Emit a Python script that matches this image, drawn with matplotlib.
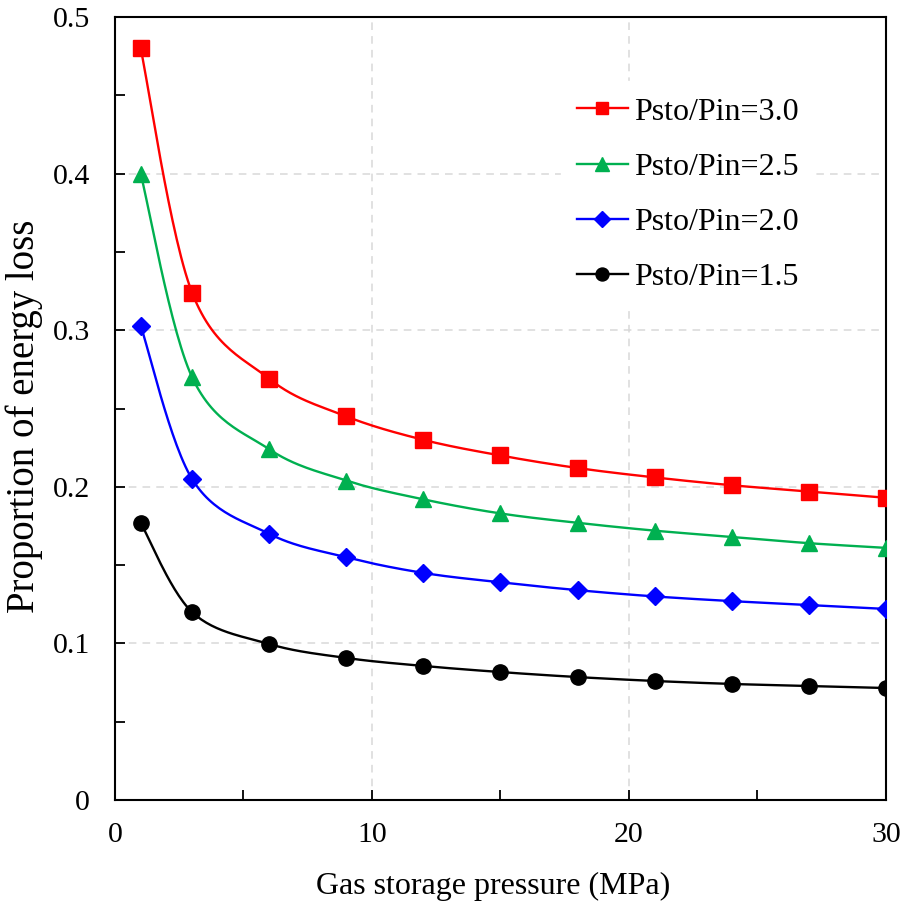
import matplotlib
matplotlib.use("Agg", force=True)
import matplotlib.pyplot as plt
from matplotlib.ticker import MultipleLocator
import numpy as np

# Data
pressure = [1, 3, 6, 9, 12, 15, 18, 21, 24, 27, 30]
ratio_30 = [0.480, 0.324, 0.269, 0.245, 0.230, 0.220, 0.212, 0.206, 0.201, 0.197, 0.193]
ratio_25 = [0.400, 0.270, 0.224, 0.204, 0.192, 0.183, 0.177, 0.172, 0.168, 0.164, 0.161]
ratio_20 = [0.303, 0.205, 0.170, 0.155, 0.145, 0.139, 0.134, 0.130, 0.127, 0.1245, 0.122]
ratio_15 = [0.177, 0.120, 0.0996, 0.0907, 0.0856, 0.0817, 0.0785, 0.0760, 0.0741, 0.0728, 0.0715]
labels = ["Psto/Pin=3.0", "Psto/Pin=2.5", "Psto/Pin=2.0", "Psto/Pin=1.5"]

plt.rcParams['font.family'] = ['Liberation Serif', 'DejaVu Serif']


def smooth_curve(x, y, n=30):
    """Excel-style smoothed line: cubic Bezier segments with Catmull-Rom control points."""
    x = np.asarray(x, float)
    y = np.asarray(y, float)
    px = np.concatenate([[x[0]], x, [x[-1]]])
    py = np.concatenate([[y[0]], y, [y[-1]]])
    xs, ys = [], []
    t = np.linspace(0, 1, n)
    for i in range(1, len(px) - 2):
        p0 = np.array([px[i], py[i]])
        p3 = np.array([px[i + 1], py[i + 1]])
        c1 = p0 + (np.array([px[i + 1], py[i + 1]]) - np.array([px[i - 1], py[i - 1]])) / 6
        c2 = p3 - (np.array([px[i + 2], py[i + 2]]) - np.array([px[i], py[i]])) / 6
        b = (((1 - t) ** 3)[:, None] * p0 + (3 * (1 - t) ** 2 * t)[:, None] * c1
             + (3 * (1 - t) * t ** 2)[:, None] * c2 + (t ** 3)[:, None] * p3)
        xs.extend(b[:, 0])
        ys.extend(b[:, 1])
    return np.array(xs), np.array(ys)


fig = plt.figure(figsize=(9.01, 9.02), dpi=100)
ax = fig.add_axes([0.1276, 0.1131, 0.8557, 0.868])

series = [
    (ratio_30, '#FF0000', 's', 11),
    (ratio_25, '#00B050', '^', 12),
    (ratio_20, '#0000FF', 'D', 9.5),
    (ratio_15, '#000000', 'o', 11),
]

for (vals, color, marker, ms), lab in zip(series, labels):
    sx, sy = smooth_curve(pressure, vals)
    ax.plot(sx, sy, color=color, lw=1.7, zorder=3)
    ax.plot(pressure, vals, linestyle='none', marker=marker, markersize=ms,
            color=color, zorder=4)
    # legend proxy
    ax.plot([], [], color=color, lw=1.7, marker=marker, markersize=ms * 0.85, label=lab)

ax.set_xlim(0, 30)
ax.set_ylim(0, 0.5)
ax.xaxis.set_major_locator(MultipleLocator(10))
ax.xaxis.set_minor_locator(MultipleLocator(5))
ax.yaxis.set_minor_locator(MultipleLocator(0.05))
ax.set_yticks([0, 0.1, 0.2, 0.3, 0.4, 0.5])
ax.set_yticklabels(["0", "0.1", "0.2", "0.3", "0.4", "0.5"])

ax.tick_params(which='both', direction='in', labelsize=21.5, width=1.3, color='black', length=7)
ax.tick_params(axis='y', which='major', pad=18)
ax.tick_params(axis='x', which='major', pad=16)
for s in ax.spines.values():
    s.set_linewidth(1.5)

ax.grid(True, which='major', linestyle=(0, (5, 4)), color='#D9D9D9', lw=1.1, zorder=0)
ax.set_axisbelow(True)

ax.set_xlabel("Gas storage pressure (MPa)", fontsize=23)
ax.set_ylabel("Proportion of energy loss", fontsize=28)
ax.xaxis.set_label_coords(0.49, -0.092)
ax.yaxis.set_label_coords(-0.093, 0.49)

leg = ax.legend(loc='upper left', bbox_to_anchor=(0.578, 0.918), fontsize=23,
                frameon=True, facecolor='white', edgecolor='white', framealpha=1,
                handlelength=1.6, handletextpad=0.2, labelspacing=0.81, borderpad=0.5,
                borderaxespad=0)
leg.set_zorder(5)

fig.savefig("out.png", dpi=100)
